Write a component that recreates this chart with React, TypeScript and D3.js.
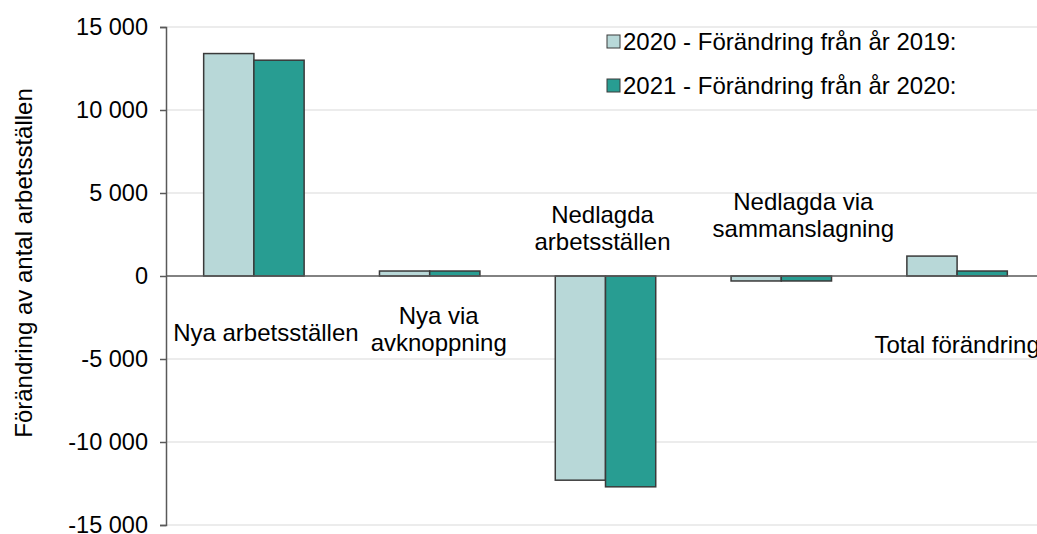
import React, { useRef, useEffect } from "react";
import * as d3 from "d3";

// chart data
const categories = [
  "Nya arbetsställen",
  "Nya via avknoppning",
  "Nedlagda arbetsställen",
  "Nedlagda via sammanslagning",
  "Total förändring",
];
const seriesNames = [
  "2020 - Förändring från år 2019:",
  "2021 - Förändring från år 2020:",
];
const values2020 = [13400, 300, -12300, -300, 1200];
const values2021 = [13000, 300, -12700, -300, 300];
const yTicks = [-15000, -10000, -5000, 0, 5000, 10000, 15000];
const yTitle = "Förändring av antal arbetsställen";

// category label lines (labels are placed freely, like in the original)
const labelLines = [
  ["Nya arbetsställen"],
  ["Nya via", "avknoppning"],
  ["Nedlagda", "arbetsställen"],
  ["Nedlagda via", "sammanslagning"],
  ["Total förändring"],
];
// label placement: dx from band centre, baseline y of first line
const labelPlacement = [
  { dx: 12, y: 341 },
  { dx: 9, y: 324 },
  { dx: -3, y: 223 },
  { dx: 22, y: 210 },
  { dx: 0, y: 353 },
];

const colors = ["#b8d8d8", "#289d92"];

function App() {
  const svgRef = useRef<SVGSVGElement>(null);

  useEffect(() => {
    const width = 1037;
    const height = 534;
    const margin = { top: 27, right: -8, bottom: 9, left: 166 };
    const font = "'Liberation Sans', Arial, sans-serif";
    const fontSize = "24px";

    const svg = d3.select(svgRef.current);
    svg.selectAll("*").remove();
    svg.attr("width", width).attr("height", height);

    const x = d3
      .scaleBand()
      .domain(categories)
      .range([margin.left, width - margin.right])
      .paddingInner(0)
      .paddingOuter(0);

    const bar = x.bandwidth() / 3.5;
    const x1 = d3
      .scaleBand()
      .domain(seriesNames)
      .range([(x.bandwidth() - 2 * bar) / 2, (x.bandwidth() + 2 * bar) / 2]);

    const y = d3
      .scaleLinear()
      .domain([-15000, 15000])
      .range([height - margin.bottom, margin.top]);

    // grid lines
    svg
      .append("g")
      .selectAll("line")
      .data(yTicks.filter(d => d !== 0))
      .enter()
      .append("line")
      .attr("x1", margin.left)
      .attr("x2", width)
      .attr("y1", d => y(d))
      .attr("y2", d => y(d))
      .attr("stroke", "#d9d9d9")
      .attr("stroke-width", 1);

    // bars
    const rows = categories.map((c, i) => ({
      category: c,
      vals: [values2020[i], values2021[i]],
    }));

    const groups = svg
      .append("g")
      .selectAll("g")
      .data(rows)
      .enter()
      .append("g")
      .attr("transform", d => `translate(${x(d.category)},0)`);

    groups
      .selectAll("rect")
      .data(d => d.vals.map((v, j) => ({ v, s: seriesNames[j], j })))
      .enter()
      .append("rect")
      .attr("x", d => x1(d.s)!)
      .attr("width", x1.bandwidth())
      .attr("y", d => y(Math.max(0, d.v)))
      .attr("height", d => Math.abs(y(d.v) - y(0)))
      .attr("fill", d => colors[d.j])
      .attr("stroke", "#3a3a3a")
      .attr("stroke-width", 1.5);

    // zero line
    svg
      .append("line")
      .attr("x1", margin.left)
      .attr("x2", width)
      .attr("y1", y(0))
      .attr("y2", y(0))
      .attr("stroke", "#595959")
      .attr("stroke-width", 1.5);

    // y axis
    const yAxis = svg
      .append("g")
      .attr("transform", `translate(${margin.left},0)`)
      .call(
        d3
          .axisLeft(y)
          .tickValues(yTicks)
          .tickSize(6)
          .tickSizeOuter(6)
          .tickPadding(12)
          .tickFormat(d => d3.format(",")(d as number).replace(/,/g, " ").replace("−", "-"))
      );
    yAxis.selectAll("path, line").attr("stroke", "#595959").attr("stroke-width", 1.5);
    yAxis
      .selectAll("text")
      .attr("fill", "#000")
      .style("font-family", font)
      .style("font-size", "23.5px");

    // y title
    svg
      .append("text")
      .attr("transform", `translate(32,${(y(15000) + y(-15000)) / 2 - 13}) rotate(-90)`)
      .attr("text-anchor", "middle")
      .style("font-family", font)
      .style("font-size", fontSize)
      .text(yTitle);

    // category labels
    labelLines.forEach((lines, i) => {
      const cx = x(categories[i])! + x.bandwidth() / 2 + labelPlacement[i].dx;
      const t = svg
        .append("text")
        .attr("text-anchor", "middle")
        .style("font-family", font)
        .style("font-size", fontSize);
      lines.forEach((ln, k) => {
        t.append("tspan")
          .attr("x", cx)
          .attr("y", labelPlacement[i].y + k * 27)
          .text(ln);
      });
    });

    // legend
    const legend = svg.append("g").attr("transform", "translate(607,0)");
    seriesNames.forEach((s, i) => {
      const cy = 42 + i * 44;
      legend
        .append("rect")
        .attr("x", 0)
        .attr("y", cy - 7)
        .attr("width", 13)
        .attr("height", 13)
        .attr("fill", colors[i])
        .attr("stroke", "#3a3a3a")
        .attr("stroke-width", 1);
      legend
        .append("text")
        .attr("x", 16)
        .attr("y", cy + 8)
        .style("font-family", font)
        .style("font-size", fontSize)
        .text(s);
    });
  }, []);

  return (
    <svg
      ref={svgRef}
      style={{ position: "absolute", left: 0, top: 0, display: "block", background: "#fff" }}
    ></svg>
  );
}

export default App;
